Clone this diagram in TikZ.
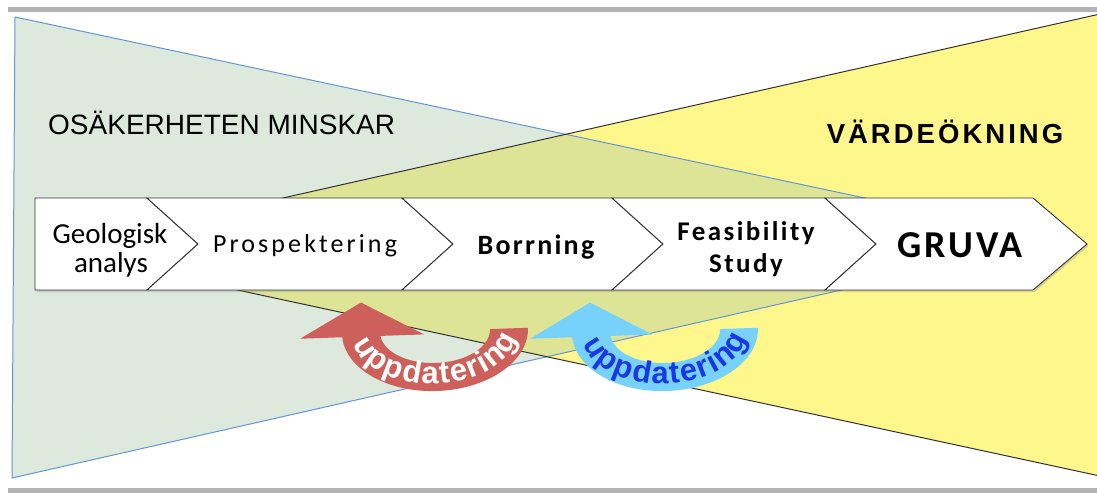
\documentclass[tikz,border=0pt]{standalone}
\usepackage{fontspec}
\setmainfont{Carlito}
\newfontfamily\arialf{Liberation Sans}
\usetikzlibrary{decorations.text,shadows}
\definecolor{greenfill}{RGB}{220,233,220}
\definecolor{yellowfill}{RGB}{255,246,140}
\definecolor{overlapfill}{RGB}{221,228,150}
\definecolor{blueline}{RGB}{100,150,215}
\definecolor{darkline}{RGB}{50,50,50}
\definecolor{greybar}{RGB}{178,178,178}
\definecolor{redarrow}{RGB}{205,96,90}
\definecolor{bluearrow}{RGB}{118,210,250}
\definecolor{bluetext}{RGB}{25,55,230}
\tikzset{
  chev/.style={draw=darkline,fill=white,line width=0.9pt,line join=miter,
    drop shadow={opacity=0.3,shadow xshift=1.5pt,shadow yshift=-2pt}},
  boxtext/.style={anchor=base,inner sep=0pt},
}
\begin{document}
\begin{tikzpicture}[x=1pt,y=1pt]
\useasboundingbox (0,0) rectangle (1097,-493);
\clip (0,0) rectangle (1097,-493);
% grey bars
\fill[greybar] (8,-7) rectangle (1097,-12);
\fill[greybar] (8,-488) rectangle (1097,-493);
% triangles
\coordinate (gA) at (15,-17);
\coordinate (gB) at (12,-478);
\coordinate (gC) at (1062,-240);
\coordinate (yA) at (1100,-14);
\coordinate (yB) at (1100,-476);
\coordinate (yC) at (52,-250);
\fill[greenfill] (gA) -- (gB) -- (gC) -- cycle;
\fill[yellowfill] (yA) -- (yB) -- (yC) -- cycle;
\begin{scope}
  \clip (yA) -- (yB) -- (yC) -- cycle;
  \fill[overlapfill] (gA) -- (gB) -- (gC) -- cycle;
\end{scope}
\draw[blueline,line width=1pt,line join=round] (gA) -- (gB) -- (gC) -- cycle;
\draw[darkline,line width=1pt] (yA) -- (yC) -- (yB);
% headings
\node[anchor=base west,inner sep=0pt,font=\arialf\fontsize{28}{28}\selectfont] (osak) at (48,-134) {OSÄKERHETEN MINSKAR};
\node[anchor=base,inner sep=0pt,font=\arialf\bfseries\fontsize{27.5}{28}\selectfont\addfontfeature{LetterSpace=11}] (vard) at (945,-143) {VÄRDEÖKNING};
% chevron band
\path[chev] (35,-198) -- (147,-198) -- (198,-244) -- (147,-290) -- (35,-290) -- cycle;
\path[chev] (147,-198) -- (402,-198) -- (453,-244) -- (402,-290) -- (147,-290) -- (198,-244) -- cycle;
\path[chev] (402,-198) -- (612,-198) -- (663,-244) -- (612,-290) -- (402,-290) -- (453,-244) -- cycle;
\path[chev] (612,-198) -- (825,-198) -- (876,-244) -- (825,-290) -- (612,-290) -- (663,-244) -- cycle;
\path[chev] (825,-198) -- (1033,-198) -- (1087,-244) -- (1033,-290) -- (825,-290) -- (876,-244) -- cycle;
% band texts
\node[boxtext,font=\fontsize{29}{30}\selectfont] (geo1) at (110,-243) {Geologisk};
\node[boxtext,font=\fontsize{29}{30}\selectfont] (geo2) at (111,-272) {analys};
\node[boxtext,font=\fontsize{26}{26}\selectfont\addfontfeature{LetterSpace=12}] (pros) at (305,-252) {Prospektering};
\node[boxtext,font=\bfseries\fontsize{28}{28}\selectfont\addfontfeature{LetterSpace=8}] (borr) at (536,-254) {Borrning};
\node[boxtext,font=\bfseries\fontsize{27}{27}\selectfont\addfontfeature{LetterSpace=9}] (feas) at (746,-240) {Feasibility};
\node[boxtext,font=\bfseries\fontsize{27}{27}\selectfont\addfontfeature{LetterSpace=9}] (stud) at (746,-272) {Study};
\node[boxtext,font=\bfseries\fontsize{38}{38}\selectfont\addfontfeature{LetterSpace=8}] (gruva) at (960,-257) {GRUVA};
% red update arrow
\begin{scope}[rotate around={2:(435,-331)}]
  \fill[redarrow] (342,-331) arc[start angle=180,end angle=360,x radius=93pt,y radius=60pt]
     -- (490,-331) arc[start angle=0,end angle=-180,x radius=55pt,y radius=32pt] -- cycle;
  \fill[redarrow] (300,-334) -- (362,-300) -- (424,-334) -- cycle;
  \path[decorate,decoration={text along path,text align={fit to path},
     text={|\arialf\bfseries\fontsize{31}{31}\selectfont\color{white}|uppdatering}}]
     (435,-331) ++(191:83pt and 53pt) arc[start angle=191,end angle=349,x radius=83pt,y radius=53pt];
\end{scope}
% blue update arrow
\begin{scope}[rotate around={2:(665,-331)}]
  \fill[bluearrow] (572,-331) arc[start angle=180,end angle=360,x radius=93pt,y radius=60pt]
     -- (720,-331) arc[start angle=0,end angle=-180,x radius=55pt,y radius=32pt] -- cycle;
  \fill[bluearrow] (530,-334) -- (591,-300) -- (652,-334) -- cycle;
  \path[decorate,decoration={text along path,text align={fit to path},
     text={|\arialf\bfseries\fontsize{31}{31}\selectfont\color{bluetext}|uppdatering}}]
     (665,-331) ++(191:83pt and 53pt) arc[start angle=191,end angle=349,x radius=83pt,y radius=53pt];
\end{scope}
\end{tikzpicture}
\end{document}
